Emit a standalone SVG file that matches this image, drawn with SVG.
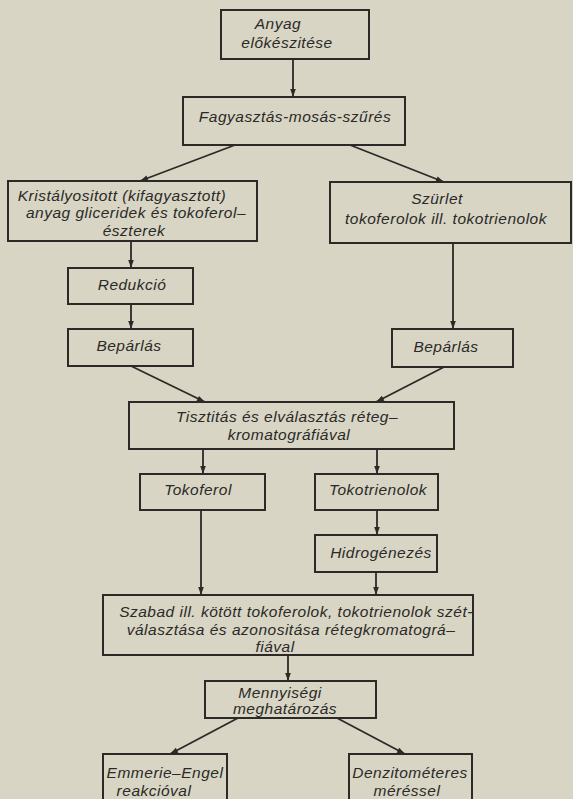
<svg xmlns="http://www.w3.org/2000/svg" width="573" height="799" viewBox="0 0 573 799">
<style>
.bg{fill:#d8d5c5}
.box{fill:none;stroke:#2b2a26;stroke-width:2}
.t{font-family:"Liberation Sans","DejaVu Sans",sans-serif;font-style:italic;font-size:15.5px;letter-spacing:0.5px;fill:#2b2a26;text-anchor:middle}
.c{fill:none;stroke:#2b2a26;stroke-width:1.8}
</style>
<defs>
<marker id="ah" viewBox="0 0 10 10" refX="10" refY="5" markerWidth="10" markerHeight="8" markerUnits="userSpaceOnUse" orient="auto">
<path d="M0,1.5 L10,5 L0,8.5 Z" fill="#2b2a26"/>
</marker>
</defs>
<rect class="bg" x="0" y="0" width="573" height="799"/>
<g id="connectors">
<line class="c" x1="293" y1="59" x2="293" y2="97" marker-end="url(#ah)"/>
<line class="c" x1="235" y1="145" x2="140" y2="181" marker-end="url(#ah)"/>
<line class="c" x1="350" y1="145" x2="444" y2="182" marker-end="url(#ah)"/>
<line class="c" x1="131" y1="241" x2="131" y2="268" marker-end="url(#ah)"/>
<line class="c" x1="131" y1="304" x2="131" y2="329" marker-end="url(#ah)"/>
<line class="c" x1="453" y1="243" x2="453" y2="329" marker-end="url(#ah)"/>
<line class="c" x1="131" y1="366" x2="205" y2="402" marker-end="url(#ah)"/>
<line class="c" x1="444" y1="367" x2="376" y2="402" marker-end="url(#ah)"/>
<line class="c" x1="203" y1="449" x2="203" y2="474" marker-end="url(#ah)"/>
<line class="c" x1="377" y1="449" x2="377" y2="474" marker-end="url(#ah)"/>
<line class="c" x1="377" y1="510" x2="377" y2="535" marker-end="url(#ah)"/>
<line class="c" x1="201" y1="510" x2="201" y2="595" marker-end="url(#ah)"/>
<line class="c" x1="376" y1="572" x2="376" y2="595" marker-end="url(#ah)"/>
<line class="c" x1="288" y1="655" x2="288" y2="681" marker-end="url(#ah)"/>
<line class="c" x1="238" y1="718" x2="170" y2="754" marker-end="url(#ah)"/>
<line class="c" x1="337" y1="718" x2="405" y2="754" marker-end="url(#ah)"/>
</g>
<g id="n1"><rect class="box" x="221" y="10" width="148" height="49"/>
<text class="t" x="278" y="29">Anyag</text><text class="t" x="287" y="48">előkészitése</text></g>
<g id="n2"><rect class="box" x="183" y="97" width="222" height="48"/>
<text class="t" x="295" y="122">Fagyasztás-mosás-szűrés</text></g>
<g id="n3"><rect class="box" x="8" y="181" width="249" height="60"/>
<text class="t" x="122" y="201">Kristályositott (kifagyasztott)</text>
<text class="t" x="136" y="218">anyag gliceridek és tokoferol–</text>
<text class="t" x="134" y="236">észterek</text></g>
<g id="n4"><rect class="box" x="330" y="182" width="241" height="61"/>
<text class="t" x="437" y="204">Szürlet</text>
<text class="t" x="446" y="224">tokoferolok ill. tokotrienolok</text></g>
<g id="n5"><rect class="box" x="68" y="268" width="125" height="36"/>
<text class="t" x="132" y="290">Redukció</text></g>
<g id="n6"><rect class="box" x="68" y="329" width="125" height="37"/>
<text class="t" x="129" y="351">Bepárlás</text></g>
<g id="n7"><rect class="box" x="392" y="329" width="121" height="38"/>
<text class="t" x="446" y="352">Bepárlás</text></g>
<g id="n8"><rect class="box" x="129" y="402" width="325" height="47"/>
<text class="t" x="287" y="422">Tisztitás és elválasztás réteg–</text>
<text class="t" x="289" y="440">kromatográfiával</text></g>
<g id="n9"><rect class="box" x="140" y="474" width="125" height="36"/>
<text class="t" x="198" y="495">Tokoferol</text></g>
<g id="n10"><rect class="box" x="315" y="474" width="123" height="36"/>
<text class="t" x="378" y="495">Tokotrienolok</text></g>
<g id="n11"><rect class="box" x="315" y="535" width="122" height="37"/>
<text class="t" x="381" y="558">Hidrogénezés</text></g>
<g id="n12"><rect class="box" x="103" y="595" width="370" height="60"/>
<text class="t" x="296" y="617">Szabad ill. kötött tokoferolok, tokotrienolok szét-</text>
<text class="t" x="291" y="635">választása és azonositása rétegkromatográ–</text>
<text class="t" x="275" y="652">fiával</text></g>
<g id="n13"><rect class="box" x="205" y="681" width="171" height="37"/>
<text class="t" x="280" y="698">Mennyiségi</text>
<text class="t" x="285" y="714">meghatározás</text></g>
<g id="n14"><rect class="box" x="103" y="754" width="124" height="56"/>
<text class="t" x="165" y="778">Emmerie–Engel</text>
<text class="t" x="154" y="796">reakcióval</text></g>
<g id="n15"><rect class="box" x="349" y="754" width="123" height="56"/>
<text class="t" x="410" y="778">Denzitométeres</text>
<text class="t" x="407" y="796">méréssel</text></g>
</svg>
